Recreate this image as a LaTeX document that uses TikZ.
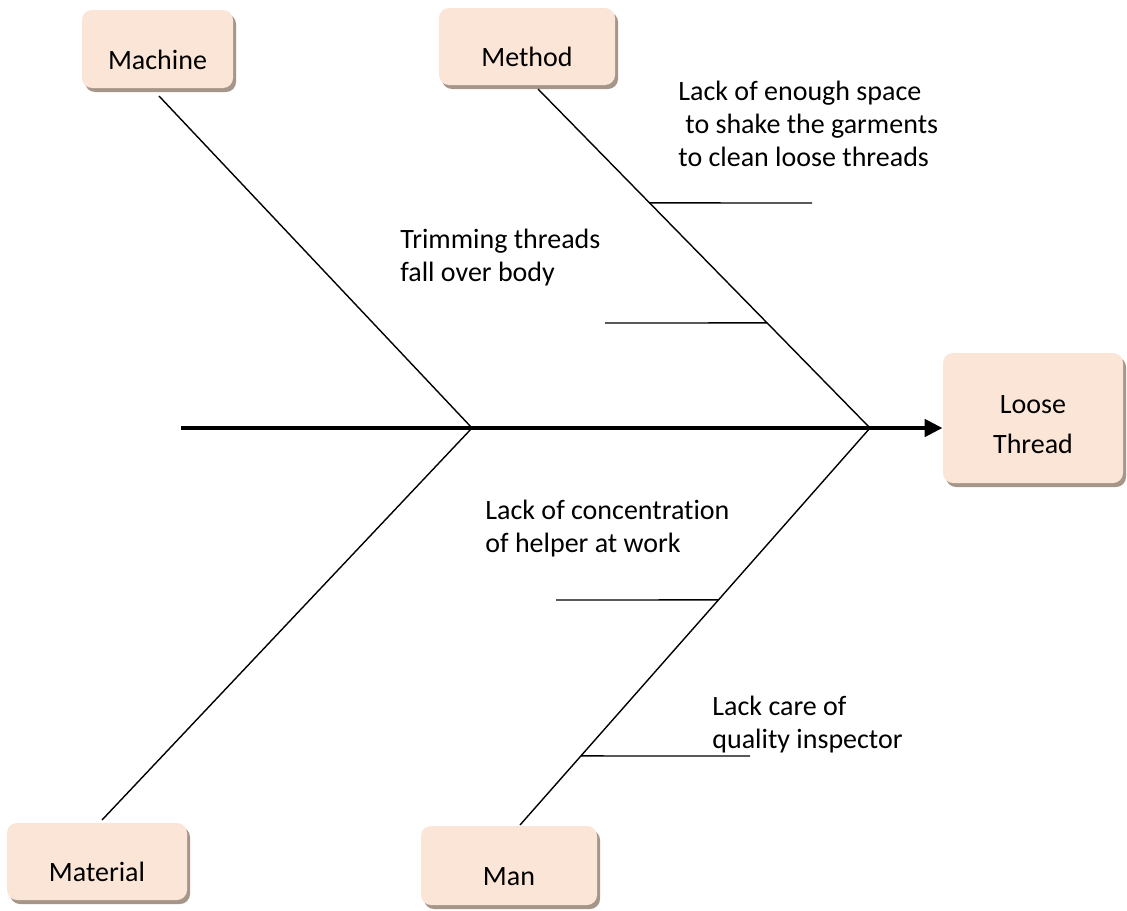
\documentclass[tikz,border=0pt]{standalone}
\usepackage{fontspec}
\setmainfont{Carlito}[RawFeature={-liga}]
\usetikzlibrary{arrows.meta,shadows}
\definecolor{boxfill}{RGB}{251,229,214}
\definecolor{boxshade}{RGB}{166,150,138}
\begin{document}
\begin{tikzpicture}[x=0.5pt,y=-0.5pt,
  every node/.style={font=\fontsize{14pt}{16.5pt}\selectfont},
  causebox/.style={rectangle, rounded corners=5pt, fill=boxfill, draw=none,
    drop shadow={shadow xshift=1.5pt, shadow yshift=-2pt, fill=boxshade, opacity=1},
    text height=20pt, text depth=0pt, inner sep=0pt},
  bone/.style={line width=0.7pt, black},
  spine/.style={line width=2.3pt, black, -{Triangle[length=9pt,width=8.5pt]}},
  note/.style={anchor=north west, align=left, inner sep=0pt}]
  \useasboundingbox (0,0) rectangle (1127,910);

  % category boxes
  \node[causebox, minimum width=75.5pt, minimum height=39pt] (machine) at (157.5,49) {Machine};
  \node[causebox, minimum width=88pt, minimum height=38.5pt] (method) at (527,46.5) {Method};
  \node[causebox, minimum width=90pt, minimum height=38.5pt] (material) at (97,861.5) {Material};
  \node[causebox, minimum width=88pt, minimum height=39.5pt] (man) at (509,865.5) {Man};
  \node[causebox, minimum width=90pt, minimum height=65pt, text height=30pt, text depth=15pt,
        font=\fontsize{14pt}{20pt}\selectfont] (loose) at (1033,418)
        {\begin{tabular}{@{}c@{}}Loose\\Thread\end{tabular}};

  % spine and joints
  \coordinate (tail) at (181,428);
  \coordinate (j1) at (472,428);
  \coordinate (j2) at (870,428);
  \draw[spine] (tail) -- (tail -| loose.west);

  % main bones
  \coordinate (mach) at (159,96);
  \coordinate (meth) at (538,89);
  \coordinate (mate) at (102,820);
  \coordinate (mann) at (520,825);
  \draw[bone] (mach) -- (j1);
  \draw[bone] (mate) -- (j1);
  \draw[bone] (meth) -- coordinate[pos=0.336] (b1) coordinate[pos=0.690] (b2) (j2);
  \draw[bone] (mann) -- coordinate[pos=0.174] (b4) coordinate[pos=0.567] (b3) (j2);

  % minor bones
  \coordinate (b1e) at (812,203);
  \coordinate (b2e) at (605,323);
  \coordinate (b3e) at (556,600);
  \coordinate (b4e) at (750,756);
  \draw[bone] (b1) -- (b1e);
  \draw[bone] (b2) -- (b2e);
  \draw[bone] (b3) -- (b3e);
  \draw[bone] (b4) -- (b4e);

  % cause labels
  \node[note] (space) at (678,81) {Lack of enough space\\\hspace*{3.5pt}to shake the garments\\to clean loose threads};
  \node[note] (trim) at (400,229) {Trimming threads\\fall over body};
  \node[note] (helper) at (485,500) {Lack of concentration\\of helper at work};
  \node[note] (inspect) at (712,696) {Lack care of\\quality inspector};
\end{tikzpicture}
\end{document}
